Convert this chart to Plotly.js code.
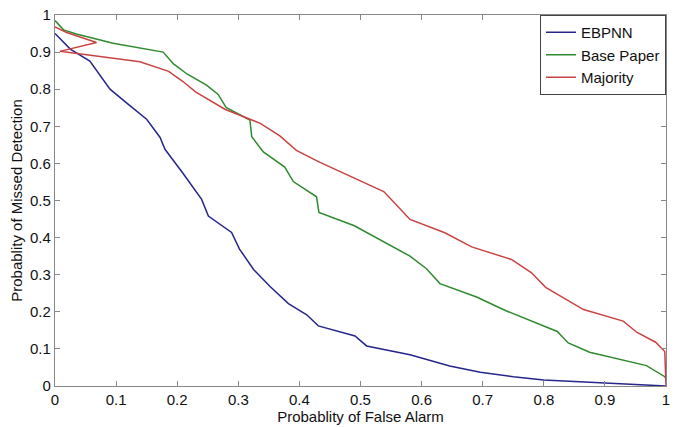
<!DOCTYPE html>
<html>
<head>
<meta charset="utf-8">
<script src="https://cdn.plot.ly/plotly-3.0.1.min.js"></script>
<style>html,body{margin:0;padding:0;background:#fff;}#chart{width:678px;height:427px;}</style>
</head>
<body>
<div id="chart"></div>
<script>
// EBPNN
const ebpnnX = [0,0.025,0.057,0.09,0.123,0.15,0.172,0.18,0.21,0.24,0.251,0.289,0.302,0.325,0.352,0.382,0.412,0.431,0.491,0.51,0.581,0.646,0.696,0.75,0.8,0.9,0.985,1];
const ebpnnY = [0.95,0.908,0.876,0.80,0.755,0.719,0.67,0.638,0.572,0.503,0.458,0.414,0.369,0.314,0.268,0.222,0.192,0.162,0.135,0.108,0.084,0.054,0.037,0.025,0.016,0.009,0.003,0];
// Base Paper
const baseX = [0,0.014,0.035,0.095,0.177,0.194,0.216,0.248,0.267,0.28,0.319,0.322,0.341,0.376,0.39,0.428,0.432,0.49,0.581,0.608,0.63,0.69,0.738,0.822,0.84,0.875,0.968,0.998,1];
const baseY = [0.985,0.96,0.949,0.924,0.90,0.868,0.841,0.811,0.786,0.751,0.717,0.672,0.631,0.59,0.551,0.51,0.468,0.432,0.35,0.316,0.276,0.24,0.203,0.147,0.116,0.091,0.055,0.025,0.02];
// Majority
const majX = [0,0.019,0.068,0.008,0.139,0.186,0.21,0.23,0.278,0.319,0.336,0.368,0.395,0.432,0.538,0.552,0.581,0.638,0.682,0.747,0.78,0.803,0.865,0.93,0.952,0.983,0.998,1];
const majY = [0.968,0.953,0.926,0.902,0.874,0.848,0.82,0.793,0.746,0.719,0.708,0.674,0.635,0.604,0.524,0.5,0.449,0.413,0.375,0.341,0.305,0.266,0.206,0.175,0.145,0.118,0.093,0];

const seriesNames = ["EBPNN","Base Paper","Majority"];
const tickVals = [0,0.1,0.2,0.3,0.4,0.5,0.6,0.7,0.8,0.9,1];
const tickText = ["0","0.1","0.2","0.3","0.4","0.5","0.6","0.7","0.8","0.9","1"];

const font = "Arial, 'Liberation Sans', sans-serif";
const traces = [
  {x: ebpnnX, y: ebpnnY, name: seriesNames[0], mode: "lines", line: {color: "#26268c", width: 1.5}},
  {x: baseX, y: baseY, name: seriesNames[1], mode: "lines", line: {color: "#2f8a2f", width: 1.5}},
  {x: majX, y: majY, name: seriesNames[2], mode: "lines", line: {color: "#c94343", width: 1.5}}
];
const axisCommon = {
  range: [0, 1], tickvals: tickVals, ticktext: tickText,
  ticks: "inside", ticklen: 5, tickcolor: "#888", tickwidth: 1,
  showline: true, linecolor: "#888", linewidth: 1.2, mirror: "ticks",
  showgrid: false, zeroline: false,
  tickfont: {family: font, size: 15, color: "#111"}
};
const layout = {
  width: 678, height: 427,
  margin: {l: 55, r: 12, t: 15, b: 41},
  paper_bgcolor: "#fff", plot_bgcolor: "#fff",
  font: {family: font, color: "#111"},
  showlegend: true,
  legend: {
    x: 1, y: 1, xanchor: "right", yanchor: "top",
    bgcolor: "#fff", bordercolor: "#444", borderwidth: 1,
    font: {family: font, size: 15, color: "#111"},
    itemwidth: 30, tracegroupgap: 0
  },
  xaxis: Object.assign({}, axisCommon, {
    title: {text: "Probablity of False Alarm", font: {family: font, size: 15, color: "#111"}, standoff: 1}
  }),
  yaxis: Object.assign({}, axisCommon, {
    title: {text: "Probablity of Missed Detection", font: {family: font, size: 15, color: "#111"}, standoff: 3}
  })
};
Plotly.newPlot("chart", traces, layout, {displayModeBar: false, staticPlot: true});
</script>
</body>
</html>
